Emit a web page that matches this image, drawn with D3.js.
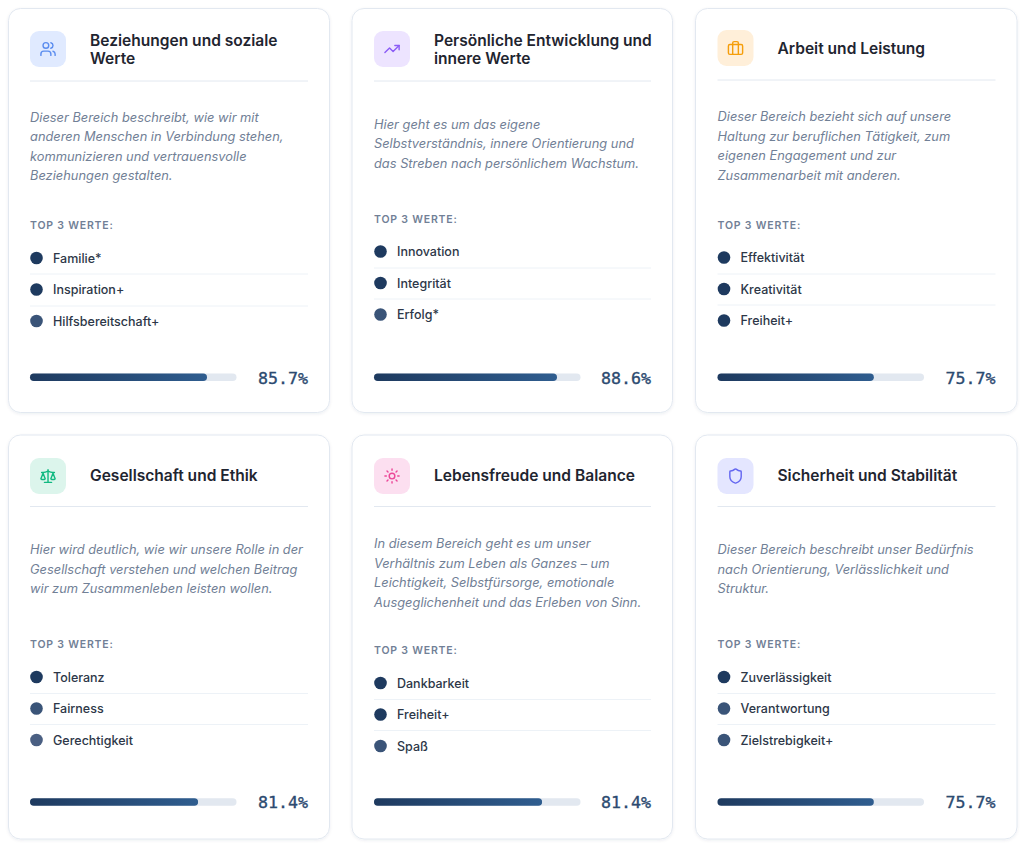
<!DOCTYPE html>
<meta charset="utf-8">
<script src="https://cdn.jsdelivr.net/npm/d3@7"></script>
<style type="text/css">
html, body { margin: 0; padding: 0; background: #fff; }
svg { display: block; }
text { font-family: Inter, "Noto Sans", sans-serif; }
.title { font-size: 15.55px; font-weight: 600; fill: #1f2530; }
.desc { font-size: 12.85px; font-style: italic; fill: #718096; }
.top3 { font-size: 10.5px; font-weight: 600; letter-spacing: 0.8px; fill: #718096; }
.item { font-size: 12.5px; font-weight: 500; fill: #2d3748; }
.pct { font-family: "DejaVu Sans Mono", monospace; font-size: 16.6px; fill: #2c4a70; stroke: #2c4a70; stroke-width: 0.35px; }
.icon { fill: none; stroke-width: 2; stroke-linecap: round; stroke-linejoin: round; }
</style>
<body>
<script>
// data
var titles = [
  ["Beziehungen und soziale", "Werte"],
  ["Persönliche Entwicklung und", "innere Werte"],
  ["Arbeit und Leistung"],
  ["Gesellschaft und Ethik"],
  ["Lebensfreude und Balance"],
  ["Sicherheit und Stabilität"]
];
var descriptions = [
  ["Dieser Bereich beschreibt, wie wir mit", "anderen Menschen in Verbindung stehen,", "kommunizieren und vertrauensvolle", "Beziehungen gestalten."],
  ["Hier geht es um das eigene", "Selbstverständnis, innere Orientierung und", "das Streben nach persönlichem Wachstum."],
  ["Dieser Bereich bezieht sich auf unsere", "Haltung zur beruflichen Tätigkeit, zum", "eigenen Engagement und zur", "Zusammenarbeit mit anderen."],
  ["Hier wird deutlich, wie wir unsere Rolle in der", "Gesellschaft verstehen und welchen Beitrag", "wir zum Zusammenleben leisten wollen."],
  ["In diesem Bereich geht es um unser", "Verhältnis zum Leben als Ganzes – um", "Leichtigkeit, Selbstfürsorge, emotionale", "Ausgeglichenheit und das Erleben von Sinn."],
  ["Dieser Bereich beschreibt unser Bedürfnis", "nach Orientierung, Verlässlichkeit und", "Struktur."]
];
var topValues = [
  ["Familie*", "Inspiration+", "Hilfsbereitschaft+"],
  ["Innovation", "Integrität", "Erfolg*"],
  ["Effektivität", "Kreativität", "Freiheit+"],
  ["Toleranz", "Fairness", "Gerechtigkeit"],
  ["Dankbarkeit", "Freiheit+", "Spaß"],
  ["Zuverlässigkeit", "Verantwortung", "Zielstrebigkeit+"]
];
var percents = [85.7, 88.6, 75.7, 81.4, 81.4, 75.7];
var dotColors = [
  ["#1e3a5f", "#1e3a5f", "#3a5478"],
  ["#1e3a5f", "#1e3a5f", "#3a5478"],
  ["#1e3a5f", "#1e3a5f", "#1e3a5f"],
  ["#1e3a5f", "#3a5478", "#4a5f82"],
  ["#1e3a5f", "#1e3a5f", "#3a5478"],
  ["#1e3a5f", "#3a5478", "#3a5478"]
];
var iconColors = ["#5b8def", "#8b5cf6", "#f59e0b", "#10b981", "#ec4899", "#6366f1"];
var iconBacks = ["#e0eaff", "#ede4ff", "#ffefd9", "#dcf5ec", "#fcdff0", "#e4e6ff"];

// lucide-style glyphs on a 24 box
var icons = [
  ["M16 21v-2a4 4 0 0 0-4-4H6a4 4 0 0 0-4 4v2", "M13 7a4 4 0 1 1-8 0a4 4 0 1 1 8 0", "M22 21v-2a4 4 0 0 0-3-3.87", "M16 3.13a4 4 0 0 1 0 7.75"],
  ["M22 7 13.5 15.5 8.5 10.5 2 17", "M16 7h6v6"],
  ["M4 7h16a2 2 0 0 1 2 2v10a2 2 0 0 1-2 2H4a2 2 0 0 1-2-2V9a2 2 0 0 1 2-2z", "M16 21V5a2 2 0 0 0-2-2h-4a2 2 0 0 0-2 2v16"],
  ["m16 16 3-8 3 8c-.87.65-1.92 1-3 1s-2.13-.35-3-1Z", "m2 16 3-8 3 8c-.87.65-1.92 1-3 1s-2.13-.35-3-1Z", "M7 21h10", "M12 3v18", "M3 7h2c2 0 5-1 7-2 2 1 5 2 7 2h2"],
  ["M16 12a4 4 0 1 1-8 0a4 4 0 1 1 8 0", "M12 2v2", "M12 20v2", "m4.93 4.93 1.41 1.41", "m17.66 17.66 1.41 1.41", "M2 12h2", "M20 12h2", "m6.34 17.66-1.41 1.41", "m19.07 4.93-1.41 1.41"],
  ["M20 13c0 5-3.5 7.5-7.66 8.95a1 1 0 0 1-.67-.01C7.5 20.5 4 18 4 13V6a1 1 0 0 1 1-1c2 0 4.5-1.2 6.24-2.72a1.17 1.17 0 0 1 1.52 0C14.51 3.81 17 5 19 5a1 1 0 0 1 1 1z"]
];

// layout, all relative to the top of a card
var cardX = [8.5, 352, 695.5];
var cardW = [321, 320.5, 321.5];
var cardY = [8.5, 435];
var cardH = 404;
var padL = [21.5, 22, 22];
var padR = 21.5;
var iconTop = [22.5, 22.5, 21.5, 23, 23, 23];
var titleTop = [37, 37, 45.5, 45.5, 45.5, 45.5];
var titleStep = 18.8;
var ruleTop = [72, 72, 71, 71, 71, 71];
var descTop = [113, 120, 112.5, 119, 113, 119];
var top3Top = [220.5, 214.5, 220.5, 212.7, 218.7, 212.7];
var itemTop = [249.5, 243, 249, 242, 248, 242];
var itemStep = 31.5;
var barTop = [365, 365, 365, 363.3, 363.3, 363.3];

var svg = d3.select("body").append("svg")
    .attr("width", 1024)
    .attr("height", 847);

var defs = svg.append("defs");
var grad = defs.append("linearGradient").attr("id", "barfill");
grad.append("stop").attr("offset", "0%").attr("stop-color", "#1e3a5f");
grad.append("stop").attr("offset", "100%").attr("stop-color", "#2f5d8f");
var shadow = defs.append("filter").attr("id", "shadow")
    .attr("x", "-5%").attr("y", "-5%").attr("width", "110%").attr("height", "110%");
shadow.append("feDropShadow")
    .attr("dx", 0).attr("dy", 1).attr("stdDeviation", 1.5)
    .attr("flood-color", "#1e3a5f").attr("flood-opacity", 0.08);

var xPct = d3.scaleLinear().domain([0, 100]).range([0, 206.5]);

titles.forEach(function(title, i) {
  var col = i % 3, row = Math.floor(i / 3);
  var w = cardW[col];
  var pad = padL[col];
  var right = w - padR;
  var card = svg.append("g")
      .attr("transform", "translate(" + cardX[col] + "," + cardY[row] + ")");

  card.append("rect")
      .attr("width", w)
      .attr("height", cardH)
      .attr("rx", 12)
      .attr("fill", "#fff")
      .attr("stroke", "#e2e8f0")
      .attr("filter", "url(#shadow)");

  // icon tile
  var tile = card.append("g")
      .attr("transform", "translate(" + pad + "," + iconTop[i] + ")");
  tile.append("rect")
      .attr("width", 36)
      .attr("height", 36)
      .attr("rx", 9)
      .attr("fill", iconBacks[i]);
  tile.append("g")
      .attr("class", "icon")
      .attr("transform", "translate(9.5,9.5) scale(0.71)")
      .attr("stroke", iconColors[i])
      .selectAll("path")
      .data(icons[i])
      .enter().append("path")
      .attr("d", function(d) { return d; });

  // header
  card.selectAll(".title")
      .data(title)
      .enter().append("text")
      .attr("class", "title")
      .attr("x", pad + 60)
      .attr("y", function(d, k) { return titleTop[i] + k * titleStep; })
      .text(function(d) { return d; });

  card.append("line")
      .attr("x1", pad).attr("x2", right)
      .attr("y1", ruleTop[i] + 0.5).attr("y2", ruleTop[i] + 0.5)
      .attr("stroke", "#e2e8f0");

  card.selectAll(".desc")
      .data(descriptions[i])
      .enter().append("text")
      .attr("class", "desc")
      .attr("x", pad)
      .attr("y", function(d, k) { return descTop[i] + k * 19.5; })
      .text(function(d) { return d; });

  card.append("text")
      .attr("class", "top3")
      .attr("x", pad)
      .attr("y", top3Top[i])
      .text("TOP 3 WERTE:");

  // top values
  var yItem = d3.scaleLinear().domain([0, 1]).range([itemTop[i], itemTop[i] + itemStep]);
  card.selectAll(".dot")
      .data(topValues[i])
      .enter().append("circle")
      .attr("class", "dot")
      .attr("cx", pad + 6.5)
      .attr("cy", function(d, k) { return yItem(k); })
      .attr("r", 6.3)
      .attr("fill", function(d, k) { return dotColors[i][k]; });
  card.selectAll(".item")
      .data(topValues[i])
      .enter().append("text")
      .attr("class", "item")
      .attr("x", pad + 23)
      .attr("y", function(d, k) { return yItem(k) + 4.5; })
      .text(function(d) { return d; });
  card.selectAll(".sep")
      .data([0, 1])
      .enter().append("line")
      .attr("class", "sep")
      .attr("x1", pad).attr("x2", right)
      .attr("y1", function(k) { return Math.round(yItem(k) + 15.5) + 0.5; })
      .attr("y2", function(k) { return Math.round(yItem(k) + 15.5) + 0.5; })
      .attr("stroke", "#edf2f7");

  // progress bar
  card.append("rect")
      .attr("x", pad)
      .attr("y", barTop[i])
      .attr("width", xPct(100))
      .attr("height", 7.5)
      .attr("rx", 3.75)
      .attr("fill", "#e2e8f0");
  card.append("rect")
      .attr("x", pad)
      .attr("y", barTop[i])
      .attr("width", xPct(percents[i]))
      .attr("height", 7.5)
      .attr("rx", 3.75)
      .attr("fill", "url(#barfill)");
  card.append("text")
      .attr("class", "pct")
      .attr("x", right)
      .attr("y", barTop[i] + 10)
      .attr("text-anchor", "end")
      .text(percents[i].toFixed(1) + "%");
});
</script>
</body>
